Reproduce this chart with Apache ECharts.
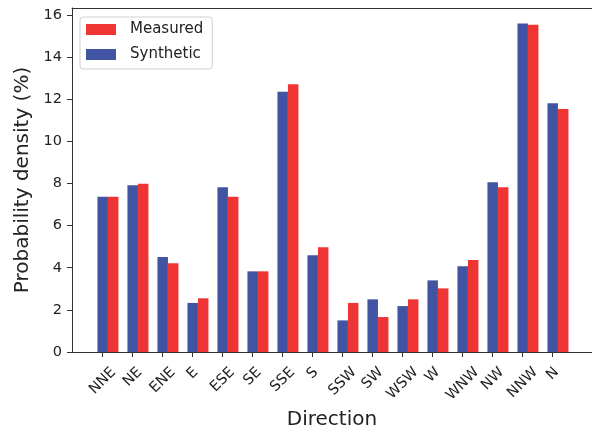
<!DOCTYPE html>
<html><head><meta charset="utf-8">
<script src="https://cdn.jsdelivr.net/npm/echarts@6/dist/echarts.min.js"></script>
<style>html,body{margin:0;padding:0;background:#fff}#c{width:592px;height:431px}</style>
</head><body><div id="c"></div>
<script>
const categories = ['NNE','NE','ENE','E','ESE','SE','SSE','S','SSW','SW','WSW','W','WNW','NW','NNW','N'];
const synthetic = [7.37,7.91,4.51,2.33,7.82,3.83,12.35,4.59,1.50,2.50,2.18,3.40,4.07,8.06,15.59,11.81];
const measured  = [7.37,7.99,4.21,2.55,7.37,3.83,12.71,4.97,2.33,1.66,2.50,3.02,4.37,7.82,15.53,11.54];
const yTicks = [0,2,4,6,8,10,12,14,16];

const FONT = 'DejaVu Sans';
const TXT = '#222';
const BLUE = '#4154a2';
const RED = '#ef3434';
const TICK_FS = 14.5;
const tickShift = 0.175; // ticks sit at the centre of the first bar of each group
const tickVals = categories.map((c,i)=>i - tickShift);

const ctx = document.createElement('canvas').getContext('2d');
ctx.font = TICK_FS + 'px "' + FONT + '"';
const rich = {};
categories.forEach((c,i)=>{
  const w = ctx.measureText(c).width;
  rich['l'+i] = {fontSize:TICK_FS, fontFamily:FONT, color:TXT, padding:[w/2, w/2, 0, 0]};
});

const chart = echarts.init(document.getElementById('c'), null, {renderer:'canvas'});
chart.setOption({
  animation:false,
  textStyle:{fontFamily:FONT},
  grid:{left:72, right:0, top:8, bottom:79, outerBoundsMode:'none'},
  legend:{
    data:['Measured','Synthetic'], orient:'vertical', left:80, top:17,
    icon:'rect', itemWidth:30, itemHeight:11, itemGap:10,
    padding:[5,9,7,6], borderColor:'#d0d0d0', borderWidth:1, borderRadius:3,
    backgroundColor:'rgba(255,255,255,0.8)',
    textStyle:{fontSize:15, fontFamily:FONT, color:TXT, padding:[0,0,0,9]}
  },
  xAxis:[{
    type:'value', min:-1.198, max:16.135,
    axisLine:{show:true, onZero:false, lineStyle:{color:'#333'}},
    axisTick:{show:true, customValues:tickVals, length:5, lineStyle:{color:'#333'}},
    axisLabel:{customValues:tickVals, rotate:45, align:'center', verticalAlign:'middle', margin:18,
      formatter:v=>{const i=Math.round(v+tickShift); return '{l'+i+'|'+categories[i]+'}';}, rich:rich},
    splitLine:{show:false},
    name:'Direction', nameLocation:'middle', nameGap:58,
    nameTextStyle:{fontSize:20, fontFamily:FONT, color:TXT}
  },{
    type:'value', position:'top', min:-1.198, max:16.135,
    axisLine:{show:true, onZero:false, lineStyle:{color:'#333'}},
    axisTick:{show:false}, axisLabel:{show:false}, splitLine:{show:false}
  }],
  yAxis:{
    type:'value', min:0, max:16.33,
    axisLine:{show:true, onZero:false, lineStyle:{color:'#333'}},
    axisTick:{show:true, customValues:yTicks, length:5, lineStyle:{color:'#333'}},
    axisLabel:{customValues:yTicks, fontSize:TICK_FS, fontFamily:FONT, color:TXT, margin:10},
    splitLine:{show:false},
    name:'Probability density (%)', nameLocation:'middle', nameGap:37,
    nameTextStyle:{fontSize:20, fontFamily:FONT, color:TXT}
  },
  series:[
    {type:'bar', name:'Synthetic', data:synthetic.map((v,i)=>[i,v]), barWidth:10.5, barGap:'0%', itemStyle:{color:BLUE}},
    {type:'bar', name:'Measured', data:measured.map((v,i)=>[i,v]), barWidth:10.5, barGap:'0%', itemStyle:{color:RED}}
  ]
});
</script></body></html>
